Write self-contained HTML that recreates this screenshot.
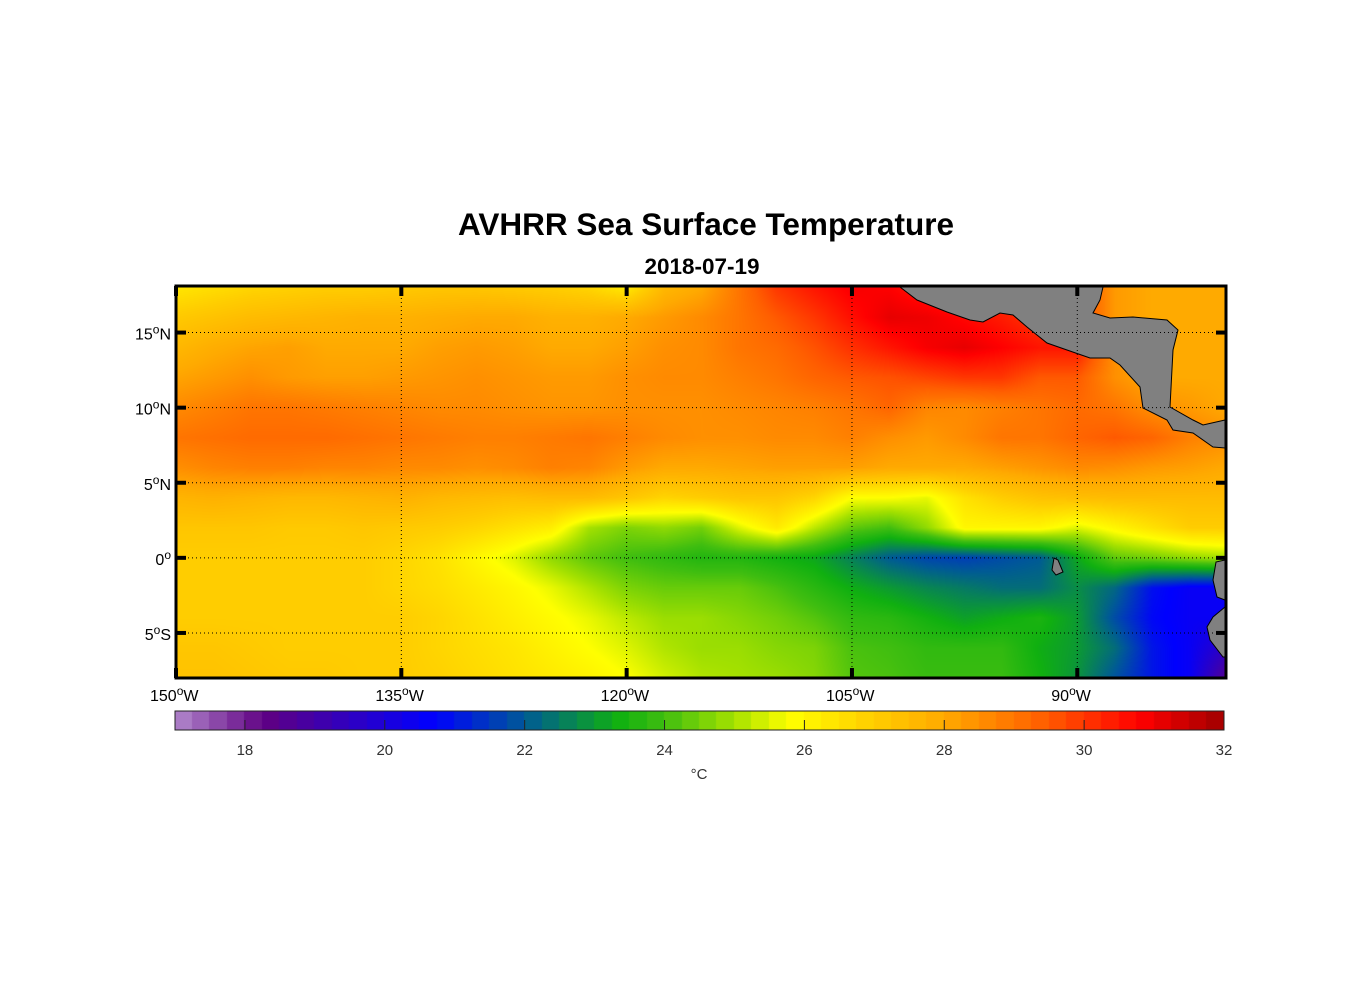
<!DOCTYPE html>
<html><head><meta charset="utf-8"><style>
body{margin:0;background:#fff;width:1356px;height:1000px;overflow:hidden;position:relative;font-family:"Liberation Sans",Arial,sans-serif}
#map{position:absolute;left:176px;top:286px}
svg{position:absolute;left:0;top:0}
</style></head><body>
<canvas id="map" width="1050" height="392"></canvas>
<canvas id="cbar" width="1049" height="19" style="position:absolute;left:175px;top:711px"></canvas>
<svg id="ov" width="1356" height="1000">
<text x="706" y="235" text-anchor="middle" font-size="31.5" font-weight="bold">AVHRR Sea Surface Temperature</text>
<text x="702" y="274" text-anchor="middle" font-size="22.5" font-weight="bold">2018-07-19</text>
<g fill="#808080" stroke="#000" stroke-width="1">
<path d="M900,287 L917,300 L947,312 L970,320 L983,322 L1000,313 L1013,315 L1027,327 L1047,343 L1067,350 L1090,358 L1110,358 L1120,365 L1140,387 L1143,408 L1167,420 L1173,430 L1193,433 L1213,447 L1225,448 L1225,420 L1203,425 L1193,420 L1170,407 L1173,350 L1178,330 L1167,320 L1133,317 L1110,318 L1093,313 L1100,300 L1103,287 Z"/>
<path d="M1054,558 L1058,560 L1063,572 L1056,575 L1052,570 Z"/>
<path d="M1225,560 L1216,562 L1213,580 L1217,597 L1225,600 Z"/>
<path d="M1225,607 L1213,617 L1207,627 L1210,640 L1223,657 L1225,657 Z"/>
</g>
<g id="grid" stroke="#000" stroke-width="1" stroke-dasharray="1,3"></g>
<g id="ticks" stroke="#000" stroke-width="4"></g>
<rect x="176" y="286" width="1050" height="392" fill="none" stroke="#000" stroke-width="3"/>
<g id="labels" font-size="16"></g>
<rect x="175" y="711" width="1049" height="19" fill="none" stroke="#222" stroke-width="1"/>
<g id="cbticks"></g>
<text x="699" y="779" text-anchor="middle" font-size="15" fill="#333">°C</text>
</svg>
<script>
const lons=[150,147.5,145,142.5,140,137.5,135,132.5,130,127.5,125,122.5,120,117.5,115,112.5,110,107.5,105,102.5,100,97.5,95,92.5,90,87.5,85,82.5,80];
const lats=[18,16,14,12,10,8,6,4,2,0,-2,-4,-6,-8];
const r18=[26.4,26.6,26.8,26.9,27,27,27.1,27.2,27.2,27.1,27,26.8,26.3,27.6,28,29,30,30.5,30.9,30.8,30.4,30,30,30,30,28.3,28,28,28];
const r16=[27.1,27.3,27.5,27.6,27.7,27.8,27.8,27.9,28,28,27.8,27.8,28,28.3,28.6,29,29.5,30,30.6,31.1,31,30.7,30.4,30,30,28.3,28,28,28];
const r14=[27.6,27.9,28.1,28.2,28,28,28,28.2,28.3,28.2,28,28,28.2,28.5,28.6,29,29.2,29.6,30.1,30.5,30.9,31.1,30.8,30.5,30.5,28.5,28,28,28];
const r12=[28.1,28.3,28.5,28.3,28.2,28.2,28.3,28.4,28.5,28.4,28.3,28.3,28.5,28.6,28.6,28.8,29,29.3,29.5,29.6,29.8,30,30,29.5,29.5,28.5,28,28,28];
const r10=[28.6,28.8,29,29,28.9,28.8,28.7,28.6,28.6,28.5,28.4,28.4,28.5,28.5,28.5,28.6,28.7,28.8,29,29.3,28.7,28.6,28.8,29,29.2,29,28.5,28.3,28];
const r8=[29,29.1,29.2,29.2,29.2,29.1,29,28.9,28.8,28.8,28.9,29,28.8,28.6,28.5,28.5,28.6,28.6,28.8,28.5,28.3,28.6,29,29,29.3,29.5,29.3,28.8,28.5];
const r6=[28.5,28.7,28.8,28.8,28.7,28.7,28.6,28.6,28.5,28.6,28.8,28.7,28.3,28,28,28.1,28.2,28.2,28.2,28,28,28,28.2,28.4,28.6,28.5,28.3,28.2,28];
const r4=[27.7,27.8,27.7,27.6,27.6,27.7,27.8,27.6,27.5,27.4,27.5,27.5,27.2,26.8,27,27.2,27.2,26.8,25.8,25.8,25.6,26.5,27,27.3,27.4,27.5,27.5,27.5,27.5];
const r2=[27.2,27.2,27.2,27.1,27.1,27.2,27.1,27,26.8,26.5,26.2,25,24.6,24.8,24.5,25.5,26.3,25.2,24.3,24,24.8,26,26,26,25.5,26,26.5,27,27];
const r0=[27,27,27,27,27,27,26.8,26.5,26,25.5,24.8,24.3,24,23.8,23.6,23.6,23.4,23.2,22.6,22,21.7,21.6,21.8,22,23.2,24.3,24.5,24.8,25];
const rs2=[27,27,27,27,27,27,26.8,26.6,26.3,26,25.6,25.1,24.6,24.4,24.4,24.4,24.1,23.7,23.3,23,22.7,22.5,22.3,22.3,22.8,22.2,20.9,20.5,20.5];
const rs4=[27,27,27,27,27,27,27,26.8,26.5,26.2,25.9,25.6,25.2,24.9,24.9,24.7,24.5,24.2,23.8,23.7,23.4,23.1,23.3,23.5,23,21.8,20.8,20.5,20.5];
const rs6=[27.2,27.2,27.1,27,27,27,27,26.8,26.6,26.4,26.1,25.8,25.5,25.1,24.9,24.9,24.7,24.6,24.1,24,23.8,23.8,23.8,23.3,23,22.3,21,20.5,19.5];
const rs8=[27.3,27.3,27.2,27.1,27.1,27,27,26.9,26.7,26.5,26.3,26.1,25.8,25.4,25.1,25,24.9,24.7,24.2,24.1,23.9,23.9,23.9,23.4,22.9,21.9,21,20.5,18.5];
const sst=[r18,r16,r14,r12,r10,r8,r6,r4,r2,r0,rs2,rs4,rs6,rs8];
const cbTicks=[18,20,22,24,26,28,30,32];
const lonTicks=[150,135,120,105,90];
const latTicks=[15,10,5,0,-5];
const stops=[[17,[178,136,204]],[18.3,[95,0,130]],[20.7,[0,0,255]],[22,[0,90,150]],[23.35,[16,176,16]],[24,[64,190,16]],[25,[165,225,0]],[25.8,[255,255,0]],[27,[255,205,0]],[28,[255,170,0]],[29.4,[255,96,0]],[30.8,[255,0,0]],[32,[160,0,0]]];
function cmap(v){if(v<=stops[0][0])return stops[0][1];for(let i=1;i<stops.length;i++){if(v<=stops[i][0]){const a=stops[i-1],b=stops[i],t=(v-a[0])/(b[0]-a[0]);return a[1].map((c,k)=>Math.round(c+(b[1][k]-c)*t));}}return stops[stops.length-1][1];}
const X0=176,W=1050,Y0=286,H=392,LON0=150,LON1=80.1,LAT0=18.1,LAT1=-8;
const xs=l=>X0+(LON0-l)/(LON0-LON1)*W, ys=l=>Y0+(LAT0-l)/(LAT0-LAT1)*H;
function val(lon,lat){let fi=(LON0-lon)/2.5,fj=(18-lat)/2;fi=Math.max(0,Math.min(lons.length-1.001,fi));fj=Math.max(0,Math.min(lats.length-1.001,fj));const i=Math.floor(fi),j=Math.floor(fj),a=fi-i,b=fj-j;return sst[j][i]*(1-a)*(1-b)+sst[j][i+1]*a*(1-b)+sst[j+1][i]*(1-a)*b+sst[j+1][i+1]*a*b;}
const cv=document.getElementById('map'),ctx=cv.getContext('2d'),img=ctx.createImageData(W,H);
for(let y=0;y<H;y++){const lat=LAT0-(y+.5)/H*(LAT0-LAT1);for(let x=0;x<W;x++){const lon=LON0-(x+.5)/W*(LON0-LON1);const c=cmap(val(lon,lat));const p=(y*W+x)*4;img.data[p]=c[0];img.data[p+1]=c[1];img.data[p+2]=c[2];img.data[p+3]=255;}}
ctx.putImageData(img,0,0);
const cb=document.getElementById('cbar'),cc=cb.getContext('2d');const cx=v=>175+(v-17)/15*1049;
for(let v=17;v<32;v+=0.25){const c=cmap(v+0.125);cc.fillStyle=`rgb(${c})`;cc.fillRect(Math.floor(cx(v)-175),0,Math.ceil(1049/60)+1,19);}
const NS='http://www.w3.org/2000/svg';
function mk(tag,attrs,parent){const e=document.createElementNS(NS,tag);for(const k in attrs)e.setAttribute(k,attrs[k]);parent.appendChild(e);return e;}
const grid=document.getElementById('grid'),ticks=document.getElementById('ticks'),labels=document.getElementById('labels'),cbt=document.getElementById('cbticks');
lonTicks.forEach(l=>{const x=xs(l);
 if(l<150){const g=mk('line',{x1:x,x2:x,y1:Y0,y2:Y0+H},grid);}
 const t1=mk('line',{x1:x,x2:x,y1:Y0,y2:Y0+10},ticks);
 const t2=mk('line',{x1:x,x2:x,y1:Y0+H-10,y2:Y0+H},ticks);
 const t=mk('text',{x:x-26,y:701},labels);
 t.innerHTML=l+'<tspan dy="-6" font-size="12">o</tspan><tspan dy="6">W</tspan>';});
latTicks.forEach(l=>{const y=ys(l);
 const g=mk('line',{x1:X0,x2:X0+W,y1:y,y2:y},grid);
 const t1=mk('line',{x1:X0,x2:X0+10,y1:y,y2:y},ticks);
 const t2=mk('line',{x1:X0+W-10,x2:X0+W,y1:y,y2:y},ticks);
 const t=mk('text',{x:171,y:y+7,'text-anchor':'end'},labels);
 const h=l>0?'N':(l<0?'S':'');t.innerHTML=Math.abs(l)+'<tspan dy="-6" font-size="12">o</tspan><tspan dy="6">'+h+'</tspan>';});
cbTicks.forEach(v=>{const x=cx(v);
 if(v<32){const k=mk('line',{x1:x,x2:x,y1:720,y2:730,stroke:'#222'},cbt);}
 const t=mk('text',{x:x,y:755,'text-anchor':'middle','font-size':15,fill:'#333'},cbt);t.textContent=v;});
</script>
</body></html>
